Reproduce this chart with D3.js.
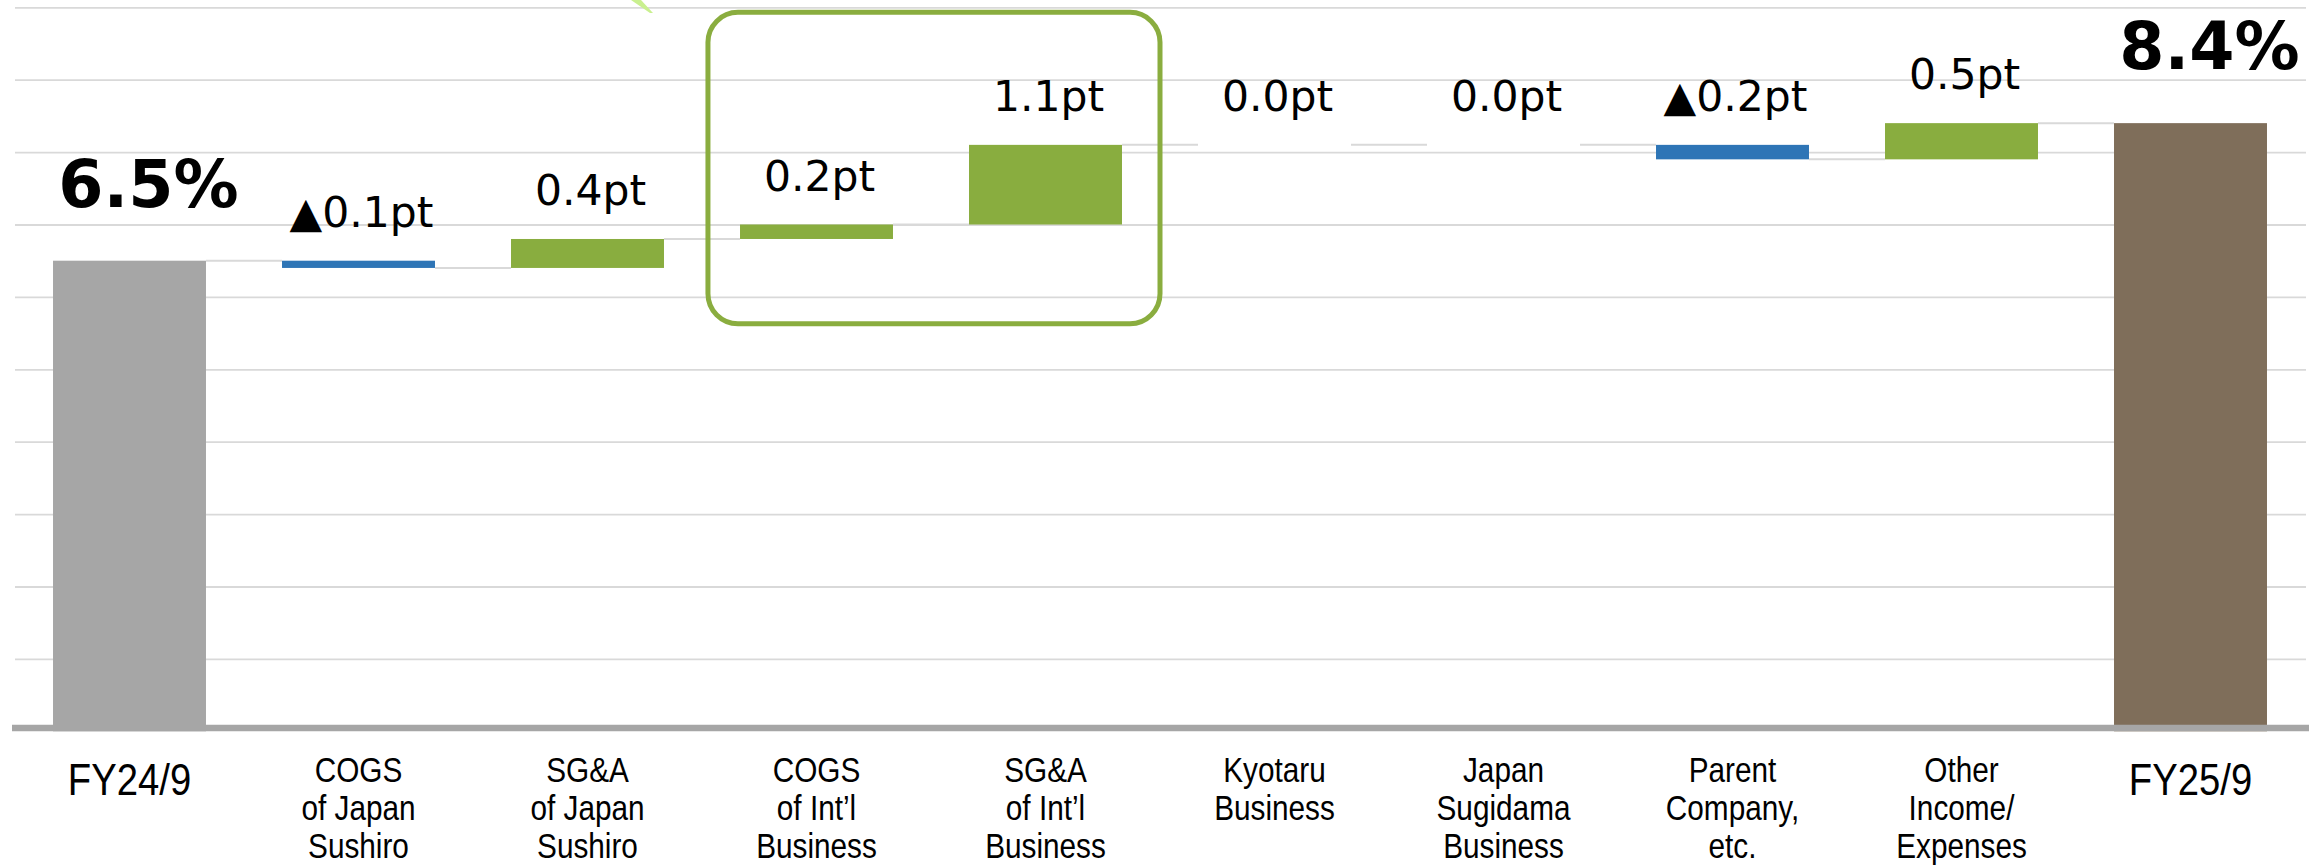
<!DOCTYPE html>
<html>
<head>
<meta charset="utf-8">
<script src="https://cdn.jsdelivr.net/npm/d3@7"></script>
<style>
  html, body { margin: 0; padding: 0; background: #ffffff; }
  svg { display: block; }
</style>
</head>
<body>
<svg id="chart" width="2315" height="866"></svg>
<script>
// Operating margin bridge: FY24/9 -> FY25/9 (percentage points)
const categories = [
  ["FY24/9"],
  ["COGS", "of Japan", "Sushiro"],
  ["SG&A", "of Japan", "Sushiro"],
  ["COGS", "of Int\u2019l", "Business"],
  ["SG&A", "of Int\u2019l", "Business"],
  ["Kyotaru", "Business"],
  ["Japan", "Sugidama", "Business"],
  ["Parent", "Company,", "etc."],
  ["Other", "Income/", "Expenses"],
  ["FY25/9"]
];
const startMargin = 6.5;
const changes = [-0.1, 0.4, 0.2, 1.1, 0.0, 0.0, -0.2, 0.5];
const endMargin = 8.4;
const gridValues = [1, 2, 3, 4, 5, 6, 7, 8, 9, 10];
const highlighted = [3, 4];   // international business items

const W = 2315, H = 866;
const svg = d3.select("#chart");

// Build waterfall steps from the data
const steps = [];
steps.push({ i: 0, kind: "total", from: 0, to: startMargin, value: startMargin });
let running = startMargin;
changes.forEach((c, k) => {
  const from = running;
  running = Math.round((running + c) * 100) / 100;
  steps.push({ i: k + 1, kind: c < 0 ? "neg" : "pos", from, to: running, value: c });
});
steps.push({ i: categories.length - 1, kind: "total", from: 0, to: endMargin, value: endMargin });

const x = d3.scaleBand()
  .domain(d3.range(categories.length))
  .range([15, 2305])
  .paddingInner(0.332)
  .paddingOuter(0.166);
const y = d3.scaleLinear().domain([0, 10]).range([731.3, 7.3]);
const bw = x.bandwidth();

const colors = { pos: "#89ad3f", neg: "#2e75b6", start: "#a6a6a6", end: "#7f6e5a" };

// Gridlines
const grid = svg.append("g")
  .attr("transform", "translate(15,0)")
  .call(d3.axisLeft(y).tickValues(gridValues).tickSize(-2291).tickFormat(""));
grid.select(".domain").remove();
grid.selectAll(".tick line").attr("stroke", "#d9d9d9").attr("stroke-width", 1.8);

// Connectors between consecutive bars
const conn = [];
for (let k = 0; k < steps.length - 1; k++) {
  conn.push({ a: k, level: steps[k].to });
}
svg.append("g").selectAll("line").data(conn).join("line")
  .attr("x1", d => x(d.a) + bw)
  .attr("x2", d => x(d.a + 1))
  .attr("y1", d => y(d.level))
  .attr("y2", d => y(d.level))
  .attr("stroke", "#d9d9d9")
  .attr("stroke-width", 2);

// Bars
svg.append("g").selectAll("rect").data(steps).join("rect")
  .attr("x", d => x(d.i))
  .attr("width", bw)
  .attr("y", d => y(Math.max(d.from, d.to)))
  .attr("height", d => Math.abs(y(d.from) - y(d.to)))
  .attr("fill", d => d.kind === "total" ? (d.i === 0 ? colors.start : colors.end) : colors[d.kind]);

// Category axis line
svg.append("line")
  .attr("x1", 12).attr("x2", 2309)
  .attr("y1", y(0) - 3.2).attr("y2", y(0) - 3.2)
  .attr("stroke", "#a6a6a6")
  .attr("stroke-width", 6.5);

// Value labels
const fmt = d3.format(".1f");
svg.append("g").selectAll("text").data(steps).join("text")
  .attr("x", d => x(d.i) + bw / 2 + (d.kind === "total" ? 19 : 3))
  .attr("y", d => y(Math.max(d.from, d.to)) - (d.kind === "total" ? 54 : 34))
  .attr("text-anchor", "middle")
  .attr("font-family", "'DejaVu Sans', Verdana, sans-serif")
  .attr("font-weight", d => d.kind === "total" ? "bold" : "normal")
  .attr("font-size", d => d.kind === "total" ? 65 : 42.5)
  .attr("fill", "#000")
  .text(d => d.kind === "total"
    ? fmt(d.value) + "%"
    : (d.value < 0 ? "\u25B2" : "") + fmt(Math.abs(d.value)) + "pt");

// Category labels (condensed sans)
const cat = svg.append("g").selectAll("text").data(categories).join("text")
  .attr("transform", (d, i) => {
    const base = d.length === 1 ? 795 : 782;
    return `translate(${x(i) + bw / 2},${base}) scale(0.85,1)`;
  })
  .attr("text-anchor", "middle")
  .attr("font-family", "'Liberation Sans', Arial, sans-serif")
  .attr("font-size", d => d.length === 1 ? 45 : 35)
  .attr("fill", "#000");
cat.selectAll("tspan").data(d => d).join("tspan")
  .attr("x", 0)
  .attr("dy", (d, j) => j === 0 ? 0 : 38)
  .text(d => d);

// Highlight frame around the international business items
const step = x.step();
const fx0 = x(highlighted[0]) - step * 0.14;
const fx1 = x(highlighted[1]) + bw + step * 0.166;
const fy0 = y(9.93), fy1 = y(5.63);
svg.append("rect")
  .attr("x", fx0).attr("y", fy0)
  .attr("width", fx1 - fx0).attr("height", fy1 - fy0)
  .attr("rx", 30).attr("ry", 30)
  .attr("fill", "none")
  .attr("stroke", "#8aad3f")
  .attr("stroke-width", 5);

// Tip of a pointer entering from above
svg.append("polygon")
  .attr("points", "631,0 641,0 653,13 650,13")
  .attr("fill", "#c9f08f");
</script>
</body>
</html>
